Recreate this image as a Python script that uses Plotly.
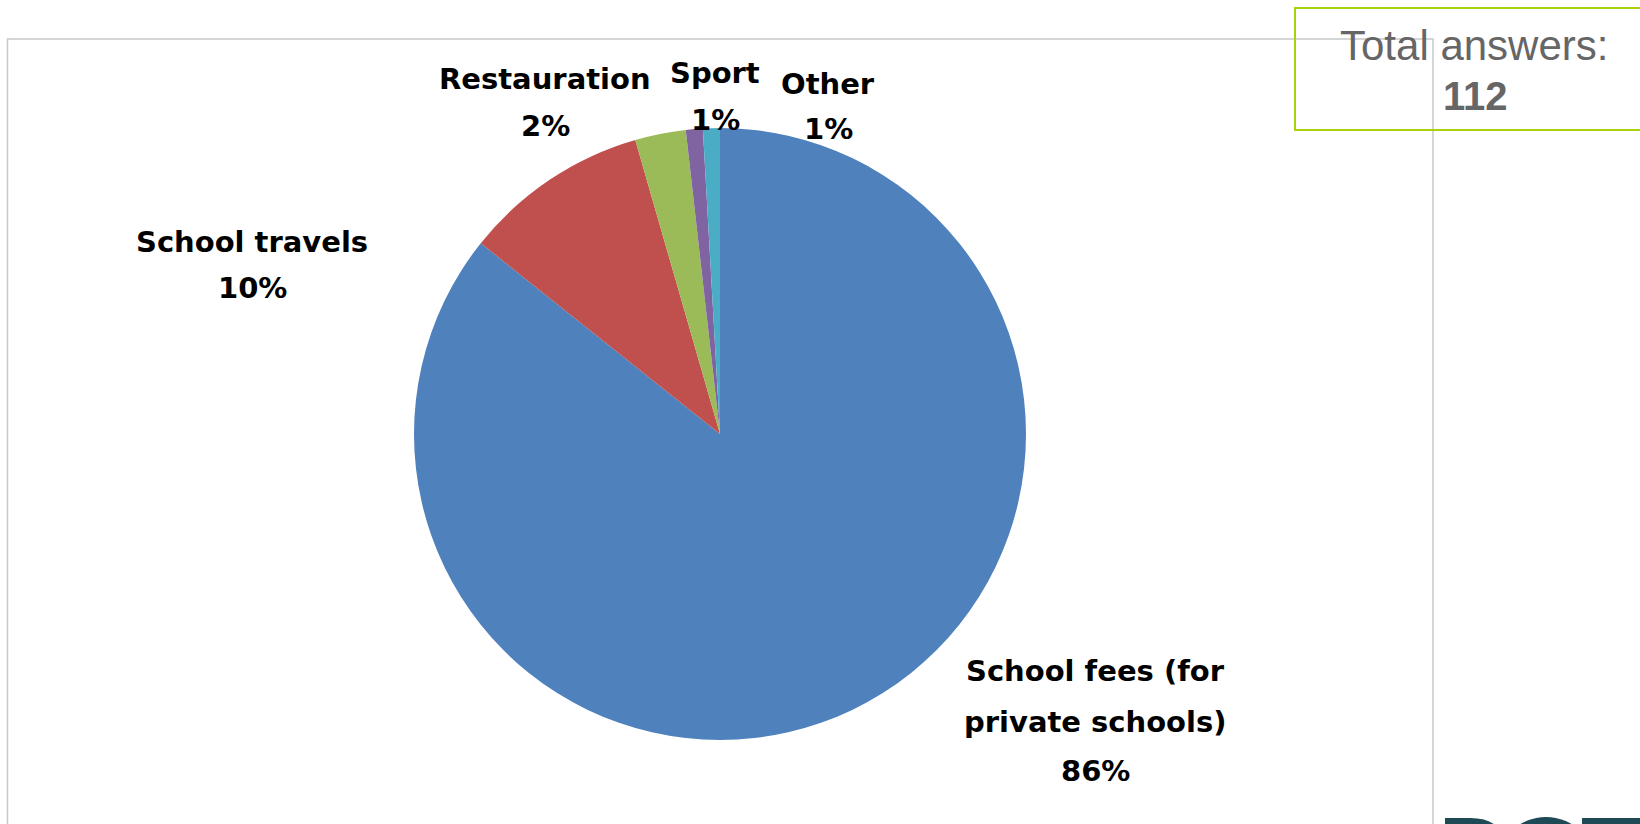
import plotly.graph_objects as go

W, H = 1640, 824

# ---- data ----
categories = ["School fees (for private schools)", "School travels", "Restauration", "Sport", "Other"]
answers = [96, 11, 3, 1, 1]
pct_labels = ["86%", "10%", "2%", "1%", "1%"]
label_lines = [
    ["School fees (for", "private schools)"],
    ["School travels"],
    ["Restauration"],
    ["Sport"],
    ["Other"],
]
total_answers = 112
colors = ["#4F81BD", "#C0504D", "#9BBB59", "#8064A2", "#4BACC6"]


def px(x):
    return x / W


def py(y):
    return 1 - y / H


# pie geometry (pixels)
cx, cy, R = 720, 434, 306

fig = go.Figure()
fig.add_trace(go.Pie(
    labels=categories,
    values=answers,
    sort=False,
    direction="clockwise",
    rotation=0,
    marker=dict(colors=colors, line=dict(width=0)),
    textinfo="none",
    hoverinfo="label+value+percent",
    showlegend=False,
    domain=dict(x=[px(cx - R), px(cx + R)], y=[py(cy + R), py(cy - R)]),
))

# label placement (pixel centers of each line), styling only
label_pos = [
    dict(x=1095, ys=[671, 722, 771]),
    dict(x=252, ys=[242, 288]),
    dict(x=545, ys=[79, 126]),
    dict(x=715, ys=[73, 120]),
    dict(x=828, ys=[84, 129]),
]

annotations = []
label_font = dict(family="DejaVu Sans", size=29, color="#000000")
for lines, pct, pos in zip(label_lines, pct_labels, label_pos):
    texts = lines + [pct]
    for t, y in zip(texts, pos["ys"]):
        annotations.append(dict(
            x=px(pos["x"]), y=py(y), xref="paper", yref="paper",
            text="<b>" + t + "</b>", showarrow=False,
            xanchor="center", yanchor="middle", font=label_font,
        ))

annotations.append(dict(
    x=px(1474), y=py(46), xref="paper", yref="paper",
    text="Total answers:", showarrow=False, xanchor="center", yanchor="middle",
    font=dict(family="Liberation Sans", size=42, color="#666666"),
))
annotations.append(dict(
    x=px(1475), y=py(96), xref="paper", yref="paper",
    text="<b>%d</b>" % total_answers, showarrow=False, xanchor="center", yanchor="middle",
    font=dict(family="Liberation Sans", size=40, color="#666666"),
))

shapes = [
    # frame lines
    dict(type="path", xref="paper", yref="paper",
         path="M %f,%f L %f,%f L %f,%f L %f,%f" % (px(7.5), py(830), px(7.5), py(39), px(1433), py(39), px(1433), py(830)),
         line=dict(color="#C8C8C8", width=1.5), layer="below"),
    # total answers box
    dict(type="rect", xref="paper", yref="paper",
         x0=px(1295), y0=py(130), x1=px(1650), y1=py(8),
         line=dict(color="#A8D20A", width=2), fillcolor="rgba(0,0,0,0)"),
    # partial logo at bottom right
    dict(type="path", xref="paper", yref="paper",
         path="M %f,%f L %f,%f L %f,%f Q %f,%f %f,%f Z" % (
             px(1445), py(826), px(1445), py(818), px(1470), py(818),
             px(1488), py(818), px(1496), py(826)),
         line=dict(width=0), fillcolor="#1D4A55"),
    dict(type="circle", xref="paper", yref="paper",
         x0=px(1496), y0=py(917), x1=px(1596), y1=py(817),
         line=dict(width=0), fillcolor="#1D4A55"),
    dict(type="rect", xref="paper", yref="paper",
         x0=px(1582), y0=py(826), x1=px(1645), y1=py(818),
         line=dict(width=0), fillcolor="#1D4A55"),
]

fig.update_layout(
    width=W, height=H,
    margin=dict(l=0, r=0, t=0, b=0),
    paper_bgcolor="white", plot_bgcolor="white",
    annotations=annotations, shapes=shapes,
)

fig.write_html("out.html")
